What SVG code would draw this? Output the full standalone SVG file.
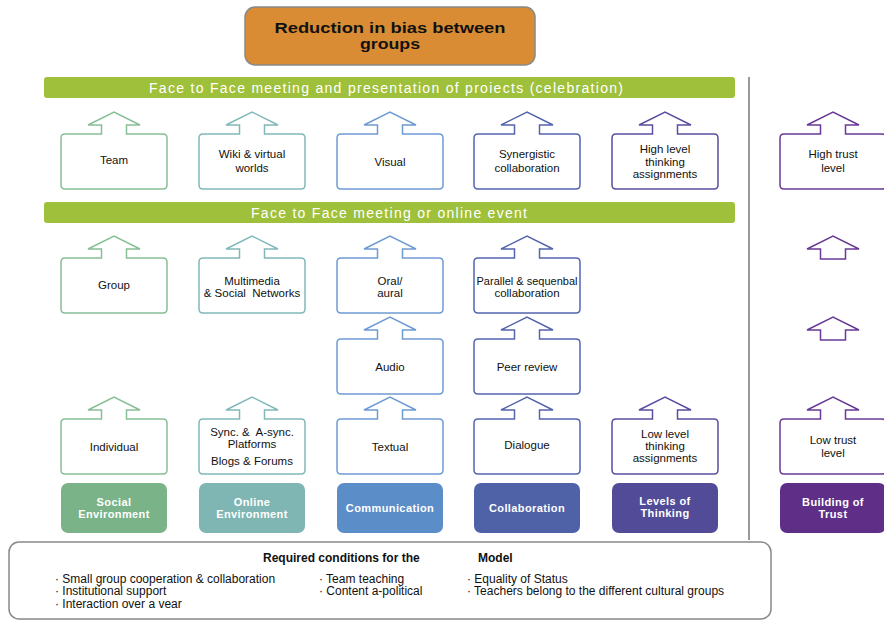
<svg xmlns="http://www.w3.org/2000/svg" xmlns:xlink="http://www.w3.org/1999/xlink" width="884" height="620" viewBox="0 0 884 620">
<style>
text{font-family:"Liberation Sans",Arial,sans-serif;white-space:pre}
.lb{font-size:11.5px;fill:#111;text-anchor:middle}
.cat{font-size:11px;fill:#fff;font-weight:bold;text-anchor:middle;letter-spacing:0.4px}
.bar{fill:#9fc03b}
.bt{font-size:14px;fill:#fff;text-anchor:middle}
.ab{fill:#fff;stroke-width:1.5}
.c1{stroke:#86bf95}.c2{stroke:#80b9b8}.c3{stroke:#6d9bd4}.c4{stroke:#5466ae}.c5{stroke:#5a4fa0}.c6{stroke:#6a3a96}
.req{font-size:12px;fill:#111}
</style>
<defs>
<path id="ab" d="M4,22 H40.5 V13 H27 L53,0 L79,13 H65.5 V22 H102 Q106,22 106,26 V73 Q106,77 102,77 H4 Q0,77 0,73 V26 Q0,22 4,22 Z"/>
<path id="sa" d="M40.5,23 V13 H27 L53,0 L79,13 H65.5 V23 Z"/>
</defs>

<g id="goal">
<rect x="245" y="7" width="290" height="58" rx="10" fill="#d98c33" stroke="#888" stroke-width="1.5"/>
<text x="390" y="32.5" font-size="14" font-weight="bold" text-anchor="middle" fill="#111" textLength="231" lengthAdjust="spacingAndGlyphs">Reduction in bias between</text>
<text x="390" y="48.5" font-size="14" font-weight="bold" text-anchor="middle" fill="#111" textLength="60" lengthAdjust="spacingAndGlyphs">groups</text>
</g>

<g id="bar1">
<rect class="bar" x="44" y="77" width="691" height="21" rx="3"/>
<text class="bt" x="386" y="92.5" textLength="474" lengthAdjust="spacing">Face to Face meeting and presentation of proiects (celebration)</text>
</g>
<g id="bar2">
<rect class="bar" x="44" y="202" width="691" height="21" rx="3"/>
<text class="bt" x="389" y="217.5" textLength="276" lengthAdjust="spacing">Face to Face meeting or online event</text>
</g>

<line id="divider" x1="749" y1="77" x2="749" y2="540" stroke="#777" stroke-width="1.5"/>

<!-- Column 1: Social -->
<g id="team"><use href="#ab" x="61" y="112" class="ab c1"/><text class="lb" x="114" y="164">Team</text></g>
<g id="group"><use href="#ab" x="61" y="236" class="ab c1"/><text class="lb" x="114" y="289">Group</text></g>
<g id="individual"><use href="#ab" x="61" y="397" class="ab c1"/><text class="lb" x="114" y="450.5">Individual</text></g>
<g id="social"><rect x="61" y="483" width="106" height="50" rx="7" fill="#7ab387"/><text class="cat" x="114" y="506">Social</text><text class="cat" x="114" y="518">Environment</text></g>

<!-- Column 2: Online -->
<g id="wiki"><use href="#ab" x="199" y="112" class="ab c2"/><text class="lb" x="252" y="158">Wiki &amp; virtual</text><text class="lb" x="252" y="171.5">worlds</text></g>
<g id="multimedia"><use href="#ab" x="199" y="236" class="ab c2"/><text class="lb" x="252" y="284.5">Multimedia</text><text class="lb" x="252" y="296.5">&amp; Social  Networks</text></g>
<g id="sync"><use href="#ab" x="199" y="397" class="ab c2"/><text class="lb" x="252" y="435.5">Sync. &amp;  A-sync.</text><text class="lb" x="252" y="447.5">Platforms</text><text class="lb" x="252" y="465">Blogs &amp; Forums</text></g>
<g id="online"><rect x="199" y="483" width="106" height="50" rx="7" fill="#7fb6b3"/><text class="cat" x="252" y="506">Online</text><text class="cat" x="252" y="518">Environment</text></g>

<!-- Column 3: Communication -->
<g id="visual"><use href="#ab" x="337" y="112" class="ab c3"/><text class="lb" x="390" y="165.5">Visual</text></g>
<g id="oral"><use href="#ab" x="337" y="236" class="ab c3"/><text class="lb" x="390" y="284.5">Oral/</text><text class="lb" x="390" y="296.5">aural</text></g>
<g id="audio"><use href="#ab" x="337" y="317" class="ab c3"/><text class="lb" x="390" y="370.5">Audio</text></g>
<g id="textual"><use href="#ab" x="337" y="397" class="ab c3"/><text class="lb" x="390" y="450.5">Textual</text></g>
<g id="communication"><rect x="337" y="483" width="106" height="50" rx="7" fill="#5b8dc9"/><text class="cat" x="390" y="512">Communication</text></g>

<!-- Column 4: Collaboration -->
<g id="synergistic"><use href="#ab" x="474" y="112" class="ab c4"/><text class="lb" x="527" y="158">Synergistic</text><text class="lb" x="527" y="172">collaboration</text></g>
<g id="parallel"><use href="#ab" x="474" y="236" class="ab c4"/><text class="lb" x="527" y="284.5" textLength="101" lengthAdjust="spacingAndGlyphs">Parallel &amp; sequenbal</text><text class="lb" x="527" y="296.5">collaboration</text></g>
<g id="peer"><use href="#ab" x="474" y="317" class="ab c4"/><text class="lb" x="527" y="370.5">Peer review</text></g>
<g id="dialogue"><use href="#ab" x="474" y="397" class="ab c4"/><text class="lb" x="527" y="449">Dialogue</text></g>
<g id="collaboration"><rect x="474" y="483" width="106" height="50" rx="7" fill="#4f62a8"/><text class="cat" x="527" y="512">Collaboration</text></g>

<!-- Column 5: Thinking -->
<g id="highthink"><use href="#ab" x="612" y="112" class="ab c5"/><text class="lb" x="665" y="153">High level</text><text class="lb" x="665" y="165.5">thinking</text><text class="lb" x="665" y="177.5">assignments</text></g>
<g id="lowthink"><use href="#ab" x="612" y="397" class="ab c5"/><text class="lb" x="665" y="437.5">Low level</text><text class="lb" x="665" y="449.5">thinking</text><text class="lb" x="665" y="461.5">assignments</text></g>
<g id="thinking"><rect x="612" y="483" width="106" height="50" rx="7" fill="#524b97"/><text class="cat" x="665" y="505">Levels of</text><text class="cat" x="665" y="517">Thinking</text></g>

<!-- Column 6: Trust -->
<g id="hightrust"><use href="#ab" x="780" y="112" class="ab c6"/><text class="lb" x="833" y="158">High trust</text><text class="lb" x="833" y="172">level</text></g>
<g id="trustarrow2"><use href="#sa" x="780" y="236" class="ab c6"/></g>
<g id="trustarrow3"><use href="#sa" x="780" y="317" class="ab c6"/></g>
<g id="lowtrust"><use href="#ab" x="780" y="397" class="ab c6"/><text class="lb" x="833" y="444">Low trust</text><text class="lb" x="833" y="456.5">level</text></g>
<g id="trust"><rect x="780" y="483" width="106" height="50" rx="7" fill="#5f2f87"/><text class="cat" x="833" y="506">Building of</text><text class="cat" x="833" y="518">Trust</text></g>

<g id="conditions">
<rect x="9" y="542" width="762" height="77" rx="10" fill="#fff" stroke="#888" stroke-width="1.5"/>
<text x="263" y="561.5" font-size="12" font-weight="bold" fill="#111">Required conditions for the</text>
<text x="478" y="561.5" font-size="12" font-weight="bold" fill="#111">Model</text>
<text class="req" x="55" y="582.5">· Small group cooperation &amp; collaboration</text>
<text class="req" x="55" y="595">· Institutional support</text>
<text class="req" x="55" y="607.5">· Interaction over a vear</text>
<text class="req" x="319" y="582.5">· Team teaching</text>
<text class="req" x="319" y="595">· Content a-political</text>
<text class="req" x="467" y="582.5">· Equality of Status</text>
<text class="req" x="467" y="595">· Teachers belong to the different cultural groups</text>
</g>

<g id="connectors"></g>
</svg>
